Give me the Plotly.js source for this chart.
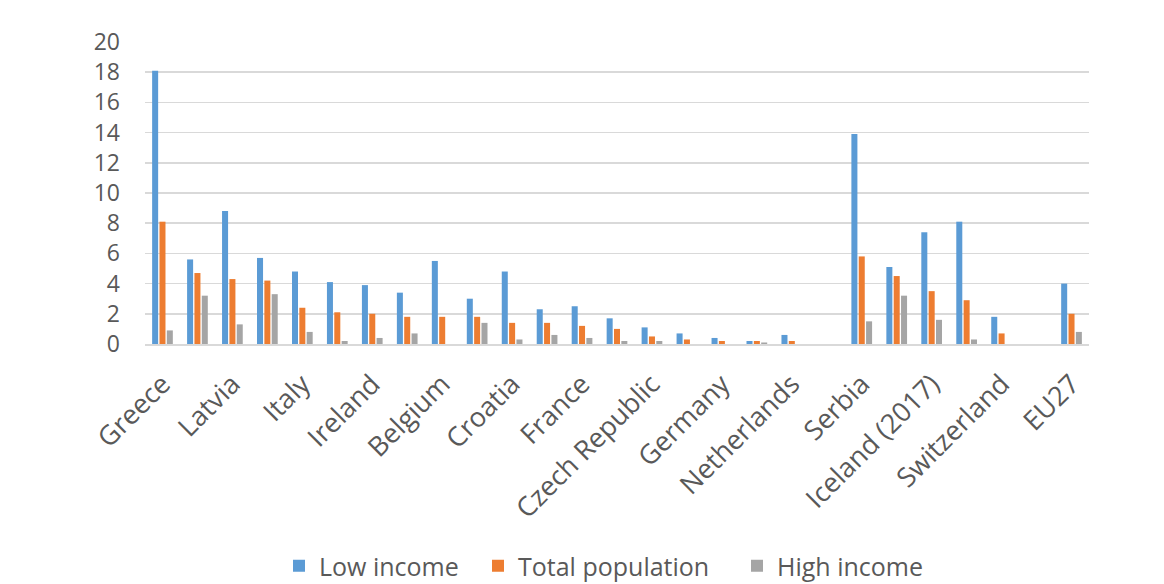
<!DOCTYPE html>
<html>
<head>
<meta charset="utf-8">
<script src="https://cdn.plot.ly/plotly-3.0.1.min.js"></script>
<style>
html,body{margin:0;padding:0;background:#fff;}
#chart{width:1164px;height:584px;}
</style>
</head>
<body>
<div id="chart"></div>
<script>
// Categories (every other label is shown on the axis, as in the source)
const categories = [
  "Greece", "Estonia", "Latvia", "Romania", "Italy", "Poland", "Ireland", "Finland",
  "Belgium", "Portugal", "Croatia", "Lithuania", "France", "Slovakia", "Czech Republic",
  "Hungary", "Germany", "Austria", "Netherlands", "Spain", "Serbia", "Montenegro",
  "Iceland (2017)", "North Macedonia", "Switzerland", "Norway", "EU27"
];
const shownLabels = [
  "Greece", "Latvia", "Italy", "Ireland", "Belgium", "Croatia", "France",
  "Czech Republic", "Germany", "Netherlands", "Serbia", "Iceland (2017)",
  "Switzerland", "EU27"
];
const lowIncome = [
  18.1, 5.6, 8.8, 5.7, 4.8, 4.1, 3.9, 3.4, 5.5, 3.0, 4.8, 2.3, 2.5, 1.7, 1.1,
  0.7, 0.4, 0.2, 0.6, null, 13.9, 5.1, 7.4, 8.1, 1.8, null, 4.0
];
const totalPopulation = [
  8.1, 4.7, 4.3, 4.2, 2.4, 2.1, 2.0, 1.8, 1.8, 1.8, 1.4, 1.4, 1.2, 1.0, 0.5,
  0.3, 0.2, 0.2, 0.2, null, 5.8, 4.5, 3.5, 2.9, 0.7, null, 2.0
];
const highIncome = [
  0.9, 3.2, 1.3, 3.3, 0.8, 0.2, 0.4, 0.7, null, 1.4, 0.3, 0.6, 0.4, 0.2, 0.2,
  null, null, 0.1, null, null, 1.5, 3.2, 1.6, 0.3, null, null, 0.8
];
const yTicks = [0, 2, 4, 6, 8, 10, 12, 14, 16, 18, 20];

const font = "'Open Sans', 'Noto Sans', sans-serif";
const textColor = "#595959";

const traces = [
  {type: "bar", name: "Low income", x: categories, y: lowIncome, marker: {color: "#5B9BD5"}, legend: "legend"},
  {type: "bar", name: "Total population", x: categories, y: totalPopulation, marker: {color: "#ED7D31"}, legend: "legend2"},
  {type: "bar", name: "High income", x: categories, y: highIncome, marker: {color: "#A5A5A5"}, legend: "legend3"}
];

// plot area: x 145..1089, y 42..344
function legendAt(px) {
  return {
    orientation: "h", xref: "paper", yref: "paper",
    x: (px - 145) / 944, xanchor: "left", y: -(566 - 344) / 302, yanchor: "middle",
    font: {family: font, size: 25, color: textColor},
    bgcolor: "rgba(0,0,0,0)", borderwidth: 0
  };
}

const layout = {
  width: 1164, height: 584,
  margin: {l: 145, r: 75, t: 42, b: 240, autoexpand: false},
  paper_bgcolor: "#ffffff", plot_bgcolor: "#ffffff",
  barmode: "group", bargap: 0.37, bargroupgap: 0.18,
  font: {family: font, color: textColor},
  showlegend: true,
  legend: legendAt(279),
  legend2: legendAt(478),
  legend3: legendAt(737),
  xaxis: {
    type: "category", categoryorder: "array", categoryarray: categories,
    tickmode: "array", tickvals: shownLabels, ticktext: shownLabels,
    tickangle: -45, tickfont: {family: font, size: 27, color: textColor},
    ticklabelstandoff: 12,
    showgrid: false, showline: true, linecolor: "#d9d9d9", linewidth: 1.5,
    ticks: "", ticklen: 0, automargin: false
  },
  yaxis: {
    range: [0, 20], tickmode: "array", tickvals: yTicks,
    tickfont: {family: font, size: 23, color: textColor},
    ticklabelstandoff: 24,
    showgrid: true, gridcolor: "#d9d9d9", gridwidth: 1.5,
    zeroline: false, showline: false, ticks: "", ticklen: 0,
    automargin: false
  }
};

Plotly.newPlot("chart", traces, layout, {displayModeBar: false, staticPlot: true});
</script>
</body>
</html>
